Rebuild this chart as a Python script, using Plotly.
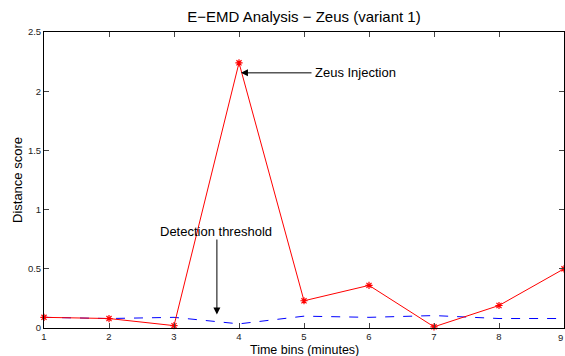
import plotly.graph_objects as go

time_bins = [1, 2, 3, 4, 5, 6, 7, 8, 9]
distance_score = [0.09, 0.08, 0.02, 2.24, 0.23, 0.36, 0.01, 0.19, 0.50]
threshold = [0.09, 0.08, 0.09, 0.035, 0.10, 0.09, 0.105, 0.08, 0.08]
x_ticks = [1, 2, 3, 4, 5, 6, 7, 8, 9]
y_ticks = [0, 0.5, 1, 1.5, 2, 2.5]
y_tick_labels = ["0", "0.5", "1", "1.5", "2", "2.5"]

font = "Liberation Sans, Arial, sans-serif"

fig = go.Figure()
fig.add_trace(go.Scatter(
    x=time_bins, y=threshold, mode="lines",
    line=dict(color="blue", width=1, dash="dash"),
    showlegend=False, cliponaxis=False))
fig.add_trace(go.Scatter(
    x=time_bins, y=distance_score, mode="lines+markers",
    line=dict(color="red", width=1),
    marker=dict(symbol="asterisk-open", size=6, color="red",
                line=dict(color="red", width=1.2)),
    showlegend=False, cliponaxis=False))

fig.update_layout(
    width=565, height=356,
    margin=dict(l=44, r=1, t=32, b=28),
    paper_bgcolor="white", plot_bgcolor="white",
    font=dict(family=font, color="black", size=10),
    title=dict(text="E\u2212EMD Analysis \u2212 Zeus (variant 1)",
               x=0.538, xanchor="center", y=0.952, yanchor="middle",
               font=dict(size=15, family=font)),
    xaxis=dict(range=[1, 9], tickvals=x_ticks[:-1], ticks="inside", ticklen=5,
               showline=True, linecolor="black", linewidth=1, mirror="ticks",
               showgrid=False, zeroline=False,
               tickfont=dict(size=9.5, color="#222")),
    yaxis=dict(range=[0, 2.5], tickvals=y_ticks, ticktext=y_tick_labels,
               ticks="inside", ticklen=5,
               showline=True, linecolor="black", linewidth=1, mirror="ticks",
               showgrid=False, zeroline=False,
               tickfont=dict(size=9.5, color="#222")),
)

# y axis title
fig.add_annotation(x=0, y=0.5, xref="paper", yref="paper",
                   text="Distance score", showarrow=False, textangle=-90,
                   xanchor="center", xshift=-27,
                   font=dict(size=13, family=font))
# last x tick label, kept inside the picture at the right edge
fig.add_annotation(x=x_ticks[-1], y=0, xref="x", yref="paper",
                   text=str(x_ticks[-1]), showarrow=False, yanchor="top",
                   xanchor="right", xshift=1,
                   yshift=-2, font=dict(size=9.5, color="#222", family=font))
# x axis title
fig.add_annotation(x=0.5, y=0, xref="paper", yref="paper",
                   text="Time bins (minutes)", showarrow=False, yanchor="top",
                   yshift=-13, font=dict(size=12.5, family=font))

fig.add_annotation(x=4.03, y=2.155, xref="x", yref="y",
                   ax=4 + (313 - 239) / 65, ay=2.155, axref="x", ayref="y",
                   text="", showarrow=True, arrowhead=2, arrowsize=1.4,
                   arrowwidth=1, arrowcolor="black")
fig.add_annotation(x=4 + (313 - 239) / 65, y=2.155, xref="x", yref="y",
                   text="Zeus Injection", showarrow=False, xanchor="left",
                   font=dict(size=13, family=font))
fig.add_annotation(x=3.66, y=0.115, xref="x", yref="y",
                   ax=3.66, ay=0.76, axref="x", ayref="y",
                   text="", showarrow=True, arrowhead=2, arrowsize=1.4,
                   arrowwidth=1, arrowcolor="black")
fig.add_annotation(x=(216 - 44) / 65 + 1, y=0.815, xref="x", yref="y",
                   text="Detection threshold", showarrow=False, xanchor="center",
                   font=dict(size=13, family=font))

fig.write_html("out.html")
